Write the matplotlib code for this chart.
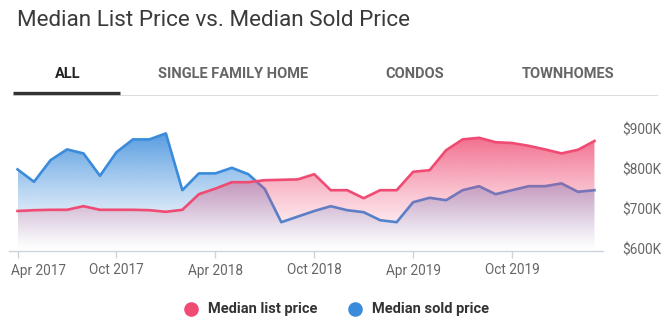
import numpy as np
import matplotlib
matplotlib.use("Agg")
import matplotlib.pyplot as plt
from matplotlib.patches import Polygon
from matplotlib.colors import to_rgb
from matplotlib.transforms import ScaledTranslation

plt.rcParams['font.family'] = ['Roboto', 'DejaVu Sans']

months = ['Apr 2017', 'May 2017', 'Jun 2017', 'Jul 2017', 'Aug 2017', 'Sep 2017',
          'Oct 2017', 'Nov 2017', 'Dec 2017', 'Jan 2018', 'Feb 2018', 'Mar 2018',
          'Apr 2018', 'May 2018', 'Jun 2018', 'Jul 2018', 'Aug 2018', 'Sep 2018',
          'Oct 2018', 'Nov 2018', 'Dec 2018', 'Jan 2019', 'Feb 2019', 'Mar 2019',
          'Apr 2019', 'May 2019', 'Jun 2019', 'Jul 2019', 'Aug 2019', 'Sep 2019',
          'Oct 2019', 'Nov 2019', 'Dec 2019', 'Jan 2020', 'Feb 2020', 'Mar 2020']
list_price = [700, 702, 703, 703, 712, 703, 703, 703, 702, 698, 703, 742,
              756, 772, 772, 777, 778, 779, 792, 752, 752, 732, 752, 752,
              798, 802, 852, 879, 883, 872, 870, 863, 854, 844, 853, 875]
sold_price = [804, 773, 827, 854, 844, 788, 847, 879, 879, 894, 752, 794,
              794, 808, 792, 755, 672, 686, 700, 712, 702, 697, 677, 672,
              722, 733, 727, 752, 762, 742, 752, 762, 762, 769, 748, 752]
tick_labels = ['Apr 2017', 'Oct 2017', 'Apr 2018', 'Oct 2018', 'Apr 2019', 'Oct 2019']
y_ticks = [600, 700, 800, 900]
y_tick_labels = ['$600K', '$700K', '$800K', '$900K']
series_names = ['Median list price', 'Median sold price']

PINK = '#ef4b73'
BLUE = '#3a8bdb'
YMIN, YMAX = 600, 940

W, H = 671, 333
fig = plt.figure(figsize=(W / 100, H / 100), dpi=100)

# axes geometry in pixels
ax_left, ax_right = 9.3, 602.7
ax_bottom_px, ax_top_px = 251, 251 - (YMAX - YMIN) * 0.4
ax = fig.add_axes([ax_left / W, (H - ax_bottom_px) / H,
                   (ax_right - ax_left) / W, (ax_bottom_px - ax_top_px) / H])

x = np.arange(len(months))


def gradient_fill(values, color, a_top, z):
    vals = np.asarray(values, dtype=float)
    vmax = vals.max()
    verts = [(x[0], YMIN)] + list(zip(x, vals)) + [(x[-1], YMIN)]
    patch = Polygon(verts, closed=True, facecolor='none', edgecolor='none',
                    transform=ax.transData)
    ax.add_patch(patch)
    n = 256
    rgb = to_rgb(color)
    grad = np.zeros((n, 1, 4))
    grad[:, 0, :3] = rgb
    t = np.linspace(0, 1, n)
    grad[:, 0, 3] = a_top * t ** 1.3
    im = ax.imshow(grad, extent=(x[0], x[-1], YMIN, vmax), aspect='auto',
                   origin='lower', zorder=z, interpolation='bilinear')
    im.set_clip_path(patch)


gradient_fill(sold_price, BLUE, 0.85, 1)
ax.plot(x, sold_price, color=BLUE, lw=1.9, zorder=2, solid_joinstyle='round')
gradient_fill(list_price, PINK, 0.8, 3)
ax.plot(x, list_price, color=PINK, lw=1.9, zorder=4, solid_joinstyle='round')

ax.set_xlim(-0.5, len(months) - 0.5)
ax.set_ylim(YMIN, YMAX)

for s in ['top', 'left', 'right']:
    ax.spines[s].set_visible(False)
ax.spines['bottom'].set_color('#ccd3dc')
ax.spines['bottom'].set_linewidth(1.0)

ax.set_xticks([months.index(m) for m in tick_labels])
ax.set_xticklabels(tick_labels)
ax.tick_params(axis='x', length=5, color='#ccd3dc', width=1, pad=4,
               labelsize=9.8, labelcolor='#666666')
first = ax.get_xticklabels()[0]
first.set_horizontalalignment('left')
first.set_transform(first.get_transform() + ScaledTranslation(-6.6 / 100, 0, fig.dpi_scale_trans))

ax.yaxis.tick_right()
ax.set_yticks(y_ticks)
ax.set_yticklabels(y_tick_labels)
ax.tick_params(axis='y', length=0, pad=14, labelsize=9.8, labelcolor='#666666')
for lab in ax.get_yticklabels():
    lab.set_verticalalignment('center')

# title
fig.text(17 / W, 1 - 20 / H, 'Median List Price vs. Median Sold Price',
         fontsize=16.2, color='#3a3a3a', ha='left', va='center')

# tabs
tabs = [('ALL', 68, '#222222'), ('SINGLE FAMILY HOME', 233, '#666666'),
        ('CONDOS', 415, '#666666'), ('TOWNHOMES', 568, '#666666')]
for label, cx, col in tabs:
    fig.text(cx / W, 1 - 74 / H, label, fontsize=10.5, fontweight='bold',
             color=col, ha='center', va='center')
fig.add_artist(plt.Line2D([13 / W, 657 / W], [1 - 94.5 / H, 1 - 94.5 / H],
                          color='#dddddd', lw=0.8))
fig.add_artist(plt.Line2D([13 / W, 120 / W], [1 - 93.5 / H, 1 - 93.5 / H],
                          color='#333333', lw=2.4, solid_capstyle='butt'))

# legend
for (name, col, cx) in [(series_names[0], PINK, 191), (series_names[1], BLUE, 355)]:
    fig.add_artist(plt.Line2D([cx / W], [1 - 309 / H], marker='o', markersize=10.5,
                              color=col, markeredgewidth=0, linestyle='none'))
    fig.text((cx + 17) / W, 1 - 309.5 / H, name, fontsize=10.5, fontweight='bold',
             color='#333333', ha='left', va='center')

fig.savefig('out.png', dpi=100, facecolor='white')
